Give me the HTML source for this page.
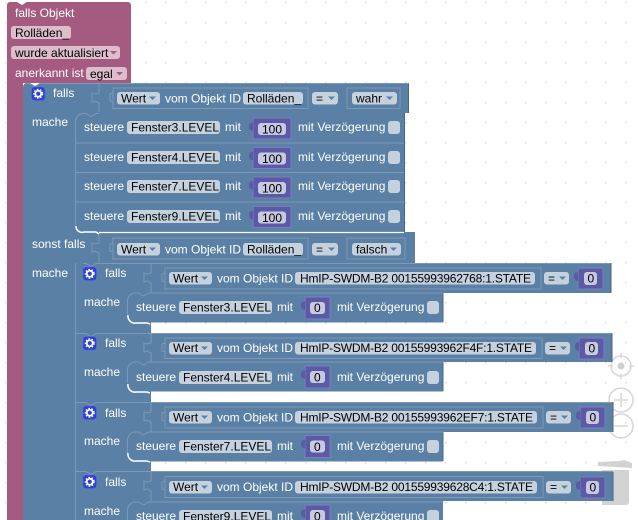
<!DOCTYPE html>
<html><head><meta charset="utf-8"><style>
html,body{margin:0;padding:0;background:#fff;width:638px;height:520px;overflow:hidden}
svg{display:block}
text{font-family:"Liberation Sans",Arial,sans-serif;font-size:12px;fill:#fff}
.d{fill:#000}
.f{fill:#c5d2de}
.p{fill:#dbbdcc}
.o{fill:none;stroke:#7c99b7;stroke-width:1}
.s{fill:none;stroke:#7c99b7;stroke-width:1}
.k{fill:none;stroke:#496684;stroke-width:1}
.h{fill:none;stroke:#fff;stroke-width:1.5}
.a{fill:#5b80a5}
.m{fill:#5b5ba5;stroke:#7c7cc0;stroke-width:1}
</style></head><body>
<svg width="638" height="520" viewBox="0 0 638 520" xmlns="http://www.w3.org/2000/svg">
<defs>
<pattern id="g" x="5" y="2" width="20" height="20" patternUnits="userSpaceOnUse"><rect x="0" y="0" width="1.4" height="1.4" fill="#d4d4d4"/></pattern>
<g id="ic"><rect x="0" y="0" width="13.5" height="13.5" rx="3" fill="#2f3fd8" stroke="#4a6fd0" stroke-width=".6"/><circle cx="6.75" cy="6.75" r="3" fill="none" stroke="#fff" stroke-width="1.8"/><circle cx="6.75" cy="6.75" r="4.4" fill="none" stroke="#fff" stroke-width="1.2" stroke-dasharray="1.6 1.6"/></g>
<g id="ck"><rect x="0" y="0" width="12" height="13" rx="3" fill="#c5d2de"/></g>
<g id="arr"><path d="M0 0h7l-3.5 3.5z" fill="#5b80a5"/></g>
<g id="arp"><path d="M0 0h7l-3.5 3.5z" fill="#a55b80"/></g>
<g id="tab"><path d="M0 4l-3 1-1 2v3l1 2 3 1z" fill="#5b5ba5"/></g>
</defs>
<rect width="638" height="520" fill="url(#g)"/>

<!-- workspace controls -->
<g fill="none" stroke="#d8d8d8" stroke-width="1.6">
<circle cx="621" cy="366" r="10"/><path d="M621 353v5M621 374v5M608 366h5M629 366h5"/>
<circle cx="621" cy="400" r="12"/><path d="M614 400h14M621 393v14"/>
<circle cx="621" cy="426" r="12"/><path d="M614 426h14"/>
</g>
<circle cx="621" cy="366" r="3.5" fill="#d0d0d0"/>
<path d="M598 462l22-1 4-1 8 3 0 5-34-2z" fill="#d2d2d2"/>
<path d="M602 470h27v33l-2 2h-25z" fill="#d2d2d2"/>

<!-- pink hat block -->
<path d="M10 2h7l5 3 5-3h101a3 3 0 0 1 3 3v78h-108v437H7V5a3 3 0 0 1 3-3z" fill="#a55b80"/>
<text x="15" y="17">falls Objekt</text>
<rect x="11" y="26" width="60" height="13" rx="3" class="p"/><text x="15" y="37" class="d">Rolläden_</text>
<rect x="11" y="46" width="109" height="13" rx="3" class="p"/><text x="15" y="57" class="d">wurde aktualisiert</text>
<use href="#arp" x="110" y="51"/>
<text x="15" y="77">anerkannt ist</text>
<rect x="86" y="67" width="41" height="13" rx="3" class="p"/><text x="90" y="78" class="d">egal</text>
<use href="#arp" x="116" y="72"/>

<!-- outer blue block -->
<path d="M27 83h3l5 3 5-3h369v30h-5v119h11v1h0v30h-4H75V520H23V87a4 4 0 0 1 4-4z" fill="#5b80a5"/>
<path d="M27 83.5h3l5 3 5-3h368.5" class="s"/>
<path d="M408.500 84v29" class="k"/>
<path d="M404.500 113v119" class="k"/>

<!-- row 1 -->
<use href="#ic" x="31.500" y="87"/>
<text x="53" y="97">falls</text>
<text x="32" y="126">mache</text>
<path d="M99 84v9l-4 1-3-1v9l3-1 4 2v9" class="s"/>
<rect x="113" y="88" width="195" height="20.500" class="o"/>
<path d="M113 93l-3 1v7l3 1" class="s"/>
<rect x="117" y="92" width="43" height="12.500" rx="3" class="f"/><text x="121" y="102.500" class="d">Wert</text><use href="#arr" x="149" y="96.500"/>
<text x="165" y="102.500">vom Objekt ID</text>
<rect x="243" y="92" width="60" height="12.500" rx="3" class="f"/><text x="247" y="102.500" class="d">Rolläden_</text>
<rect x="312" y="92" width="26" height="12.500" rx="3" class="f"/><text x="316" y="102.500" class="d">=</text><use href="#arr" x="328" y="96.500"/>
<rect x="347" y="88" width="53" height="20.500" class="o"/>
<rect x="352" y="92" width="45" height="12.500" rx="3" class="f"/><text x="356" y="102.500" class="d">wahr</text><use href="#arr" x="386" y="96.500"/>

<!-- steuere rows group 1 -->
<path d="M83 113.500h3l5 3 5-3h3M75.500 122a8 8 0 0 1 8-8.500" class="s"/>
<path d="M75.500 120v105" class="s"/>
<path d="M76 143h328M76 172.500h328M76 202h328" class="s"/>
<path d="M76 226a6 6 0 0 0 8 6h12l3 2" class="h"/>
<path d="M99 232.500h305" stroke="#fff" stroke-width="1.200"/>

<text x="84" y="131">steuere</text>
<rect x="127" y="121" width="93" height="13" rx="3" class="f"/><text x="131" y="131.500" class="d">Fenster3.LEVEL</text>
<text x="225" y="131">mit</text>
<rect x="253" y="118" width="38" height="21" class="m"/><use href="#tab" x="253" y="118"/><rect x="258" y="123" width="28" height="12" rx="3" fill="#c8c8e2"/><text x="262" y="133.500" class="d">100</text>
<text x="298" y="131">mit Verzögerung</text><use href="#ck" x="388" y="121"/>

<text x="84" y="161">steuere</text>
<rect x="127" y="151" width="93" height="13" rx="3" class="f"/><text x="131" y="161.500" class="d">Fenster4.LEVEL</text>
<text x="225" y="161">mit</text>
<rect x="253" y="147.500" width="38" height="21" class="m"/><use href="#tab" x="253" y="147.500"/><rect x="258" y="152.500" width="28" height="12" rx="3" fill="#c8c8e2"/><text x="262" y="163" class="d">100</text>
<text x="298" y="161">mit Verzögerung</text><use href="#ck" x="388" y="151"/>

<text x="84" y="190">steuere</text>
<rect x="127" y="180" width="93" height="13" rx="3" class="f"/><text x="131" y="190.500" class="d">Fenster7.LEVEL</text>
<text x="225" y="190">mit</text>
<rect x="253" y="177" width="38" height="21" class="m"/><use href="#tab" x="253" y="177"/><rect x="258" y="182" width="28" height="12" rx="3" fill="#c8c8e2"/><text x="262" y="192.500" class="d">100</text>
<text x="298" y="190">mit Verzögerung</text><use href="#ck" x="388" y="180"/>

<text x="84" y="220">steuere</text>
<rect x="127" y="210" width="93" height="13" rx="3" class="f"/><text x="131" y="220.500" class="d">Fenster9.LEVEL</text>
<text x="225" y="220">mit</text>
<rect x="253" y="206.500" width="38" height="21" class="m"/><use href="#tab" x="253" y="206.500"/><rect x="258" y="211.500" width="28" height="12" rx="3" fill="#c8c8e2"/><text x="262" y="222" class="d">100</text>
<text x="298" y="220">mit Verzögerung</text><use href="#ck" x="388" y="210"/>

<!-- sonst falls -->
<text x="32" y="248">sonst falls</text>
<text x="32" y="277">mache</text>
<path d="M99 234v9l-4 1-3-1v9l3-1 4 2v10" class="s"/>
<rect x="113" y="238" width="195" height="21" class="o"/>
<path d="M113 243l-3 1v7l3 1" class="s"/>
<rect x="117" y="243" width="43" height="12.500" rx="3" class="f"/><text x="121" y="253.500" class="d">Wert</text><use href="#arr" x="149" y="247.500"/>
<text x="165" y="253.500">vom Objekt ID</text>
<rect x="243" y="243" width="60" height="12.500" rx="3" class="f"/><text x="247" y="253.500" class="d">Rolläden_</text>
<rect x="312" y="243" width="26" height="12.500" rx="3" class="f"/><text x="316" y="253.500" class="d">=</text><use href="#arr" x="328" y="247.500"/>
<rect x="347" y="238" width="58" height="21" class="o"/>
<rect x="352" y="243" width="49" height="12.500" rx="3" class="f"/><text x="356" y="253.500" class="d">falsch</text><use href="#arr" x="390" y="247.500"/>

<!-- inner if 1 -->
<path d="M75 263h536v30H443v29.500H151V333H75z" fill="#5b80a5"/>
<path d="M83 263.500h3l5 3 5-3h515" class="s"/><path d="M443 293v29M611 263v30" class="k"/>
<path d="M75.500 263v70" class="s"/>
<use href="#ic" x="83" y="267"/>
<text x="105" y="277">falls</text>
<text x="84" y="306">mache</text>
<path d="M151 264v9l-4 1-3-1v9l3-1 4 2v10" class="s"/>
<rect x="165" y="268" width="376" height="21" class="o"/>
<path d="M165 273l-3 1v7l3 1" class="s"/>
<rect x="169" y="272" width="43" height="12.500" rx="3" class="f"/><text x="173" y="282.500" class="d">Wert</text><use href="#arr" x="201" y="276.500"/>
<text x="217" y="282.500">vom Objekt ID</text>
<rect x="295" y="272" width="240" height="12.500" rx="3" class="f"/><text x="300" y="282.500" class="d" textLength="231">HmIP-SWDM-B2 00155993962768:1.STATE</text>
<rect x="544" y="272" width="25" height="12.500" rx="3" class="f"/><text x="548" y="282.500" class="d">=</text><use href="#arr" x="559" y="276.500"/>
<rect x="578" y="268" width="25" height="21" class="m"/><use href="#tab" x="578" y="268"/><rect x="584" y="272" width="13" height="13" rx="3" fill="#c8c8e2"/><text x="587.500" y="282.500" class="d">0</text>
<path d="M127.500 301a8 8 0 0 1 8-8h3l5 3 5-3h295" class="s"/>
<path d="M127.500 300v14" class="s"/>
<path d="M128 315a7 7 0 0 0 8 8h11l3 1" class="h"/>
<text x="136" y="311">steuere</text>
<rect x="179" y="301" width="93" height="13" rx="3" class="f"/><text x="183" y="311.500" class="d">Fenster3.LEVEL</text>
<text x="277" y="311">mit</text>
<rect x="305" y="297" width="25" height="22" class="m"/><use href="#tab" x="305" y="297"/><rect x="310" y="302" width="15" height="12" rx="3" fill="#c8c8e2"/><text x="314" y="312" class="d">0</text>
<text x="337" y="311">mit Verzögerung</text><use href="#ck" x="427" y="301"/>

<!-- inner if 2 -->
<path d="M75 333h537v29H443v29.500H151V402H75z" fill="#5b80a5"/>
<path d="M75 333.500h8l3 0 5 3 5-3h516" class="s"/><path d="M443 362v29M612 333v29" class="k"/>
<path d="M75.500 333v69" class="s"/>
<use href="#ic" x="83" y="336.500"/>
<text x="105" y="347">falls</text>
<text x="84" y="376">mache</text>
<path d="M151 334v9l-4 1-3-1v9l3-1 4 2v9" class="s"/>
<rect x="165" y="338" width="377" height="20.500" class="o"/>
<path d="M165 343l-3 1v7l3 1" class="s"/>
<rect x="169" y="342" width="43" height="12.500" rx="3" class="f"/><text x="173" y="352" class="d">Wert</text><use href="#arr" x="201" y="346.500"/>
<text x="217" y="352">vom Objekt ID</text>
<rect x="295" y="342" width="241" height="12.500" rx="3" class="f"/><text x="300" y="352" class="d" textLength="232">HmIP-SWDM-B2 00155993962F4F:1.STATE</text>
<rect x="545" y="342" width="25" height="12.500" rx="3" class="f"/><text x="549" y="352" class="d">=</text><use href="#arr" x="560" y="346.500"/>
<rect x="579" y="338" width="25" height="21" class="m"/><use href="#tab" x="579" y="338"/><rect x="585" y="342" width="13" height="13" rx="3" fill="#c8c8e2"/><text x="588.500" y="352.500" class="d">0</text>
<path d="M127.500 370a8 8 0 0 1 8-8h3l5 3 5-3h295" class="s"/>
<path d="M127.500 369v14" class="s"/>
<path d="M128 384a7 7 0 0 0 8 8h11l3 1" class="h"/>
<text x="136" y="381">steuere</text>
<rect x="179" y="371" width="93" height="13" rx="3" class="f"/><text x="183" y="381.500" class="d">Fenster4.LEVEL</text>
<text x="277" y="381">mit</text>
<rect x="305" y="366" width="25" height="22" class="m"/><use href="#tab" x="305" y="366"/><rect x="310" y="371" width="15" height="12" rx="3" fill="#c8c8e2"/><text x="314" y="381.500" class="d">0</text>
<text x="337" y="381">mit Verzögerung</text><use href="#ck" x="427" y="371"/>

<!-- inner if 3 -->
<path d="M75 402h538v30H443v29.500H151V471H75z" fill="#5b80a5"/>
<path d="M75 402.500h11l5 3 5-3h517" class="s"/><path d="M443 432v29M613 402v30" class="k"/>
<path d="M75.500 402v69" class="s"/>
<use href="#ic" x="83" y="406"/>
<text x="105" y="417">falls</text>
<text x="84" y="445">mache</text>
<path d="M151 403v9l-4 1-3-1v9l3-1 4 2v10" class="s"/>
<rect x="165" y="407" width="378" height="21" class="o"/>
<path d="M165 412l-3 1v7l3 1" class="s"/>
<rect x="169" y="411" width="43" height="12.500" rx="3" class="f"/><text x="173" y="421.500" class="d">Wert</text><use href="#arr" x="201" y="415.500"/>
<text x="217" y="421.500">vom Objekt ID</text>
<rect x="295" y="411" width="242" height="12.500" rx="3" class="f"/><text x="300" y="421.500" class="d" textLength="233">HmIP-SWDM-B2 00155993962EF7:1.STATE</text>
<rect x="546" y="411" width="25" height="12.500" rx="3" class="f"/><text x="550" y="421.500" class="d">=</text><use href="#arr" x="561" y="415.500"/>
<rect x="580" y="407" width="25" height="21" class="m"/><use href="#tab" x="580" y="407"/><rect x="586" y="411" width="13" height="13" rx="3" fill="#c8c8e2"/><text x="589.500" y="421.500" class="d">0</text>
<path d="M127.500 440a8 8 0 0 1 8-8h3l5 3 5-3h295" class="s"/>
<path d="M127.500 439v14" class="s"/>
<path d="M128 453a7 7 0 0 0 8 8h11l3 1" class="h"/>
<text x="136" y="450">steuere</text>
<rect x="179" y="440" width="93" height="13" rx="3" class="f"/><text x="183" y="450.500" class="d">Fenster7.LEVEL</text>
<text x="277" y="450">mit</text>
<rect x="305" y="435.500" width="25" height="22" class="m"/><use href="#tab" x="305" y="435.500"/><rect x="310" y="440.500" width="15" height="12" rx="3" fill="#c8c8e2"/><text x="314" y="451" class="d">0</text>
<text x="337" y="450">mit Verzögerung</text><use href="#ck" x="427" y="440"/>

<!-- inner if 4 -->
<path d="M75 471h538v30H443v19H75z" fill="#5b80a5"/>
<path d="M75 471.500h11l5 3 5-3h517" class="s"/><path d="M613 472v29" class="k"/>
<path d="M75.500 471v49" class="s"/>
<use href="#ic" x="83" y="475"/>
<text x="105" y="486">falls</text>
<text x="84" y="515">mache</text>
<path d="M151 472v9l-4 1-3-1v9l3-1 4 2v10" class="s"/>
<rect x="165" y="476.500" width="378" height="21" class="o"/>
<path d="M165 481l-3 1v7l3 1" class="s"/>
<rect x="169" y="481" width="43" height="12.500" rx="3" class="f"/><text x="173" y="491" class="d">Wert</text><use href="#arr" x="201" y="485.500"/>
<text x="217" y="491">vom Objekt ID</text>
<rect x="295" y="481" width="242" height="12.500" rx="3" class="f"/><text x="300" y="491" class="d" textLength="233">HmIP-SWDM-B2 001559939628C4:1.STATE</text>
<rect x="546" y="481" width="25" height="12.500" rx="3" class="f"/><text x="550" y="491" class="d">=</text><use href="#arr" x="561" y="485.500"/>
<rect x="580" y="477" width="25" height="21" class="m"/><use href="#tab" x="580" y="477"/><rect x="586" y="481" width="13" height="13" rx="3" fill="#c8c8e2"/><text x="589.500" y="491.500" class="d">0</text>
<path d="M127.500 510a8 8 0 0 1 8-8h3l5 3 5-3h295" class="s"/>
<path d="M127.500 509v11" class="s"/>
<text x="136" y="520">steuere</text>
<rect x="179" y="510" width="93" height="13" rx="3" class="f"/><text x="183" y="520.500" class="d">Fenster9.LEVEL</text>
<text x="277" y="520">mit</text>
<rect x="305" y="505" width="25" height="22" class="m"/><use href="#tab" x="305" y="505"/><rect x="310" y="510" width="15" height="12" rx="3" fill="#c8c8e2"/><text x="314" y="520.500" class="d">0</text>
<text x="337" y="520">mit Verzögerung</text><use href="#ck" x="427" y="510"/>
</svg>
</body></html>
